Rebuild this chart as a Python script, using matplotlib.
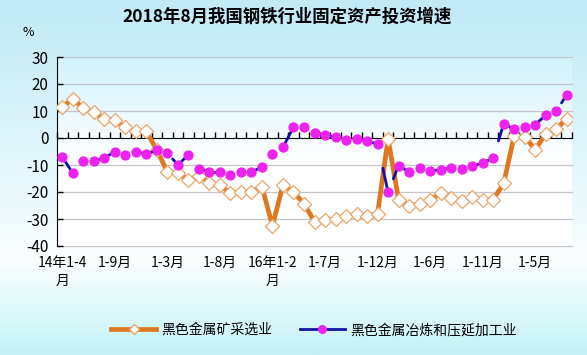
import matplotlib
matplotlib.use("Agg")
import matplotlib.pyplot as plt
import numpy as np
from matplotlib.colors import LinearSegmentedColormap
from matplotlib.lines import Line2D
from matplotlib.transforms import blended_transform_factory

plt.rcParams["font.family"] = ["Noto Sans CJK SC", "DejaVu Sans"]
plt.rcParams["axes.unicode_minus"] = False

TITLE = "2018年8月我国钢铁行业固定资产投资增速"
SERIES_NAMES = ["黑色金属矿采选业", "黑色金属冶炼和压延加工业"]

periods = [
    "14年1-4月", "1-5月", "1-6月", "1-7月", "1-8月", "1-9月", "1-10月", "1-11月", "1-12月",
    "15年1-2月", "1-3月", "1-4月", "1-5月", "1-6月", "1-7月", "1-8月", "1-9月", "1-10月",
    "1-11月", "1-12月",
    "16年1-2月", "1-3月", "1-4月", "1-5月", "1-6月", "1-7月", "1-8月", "1-9月", "1-10月",
    "1-11月", "1-12月",
    "17年1-2月", "1-3月", "1-4月", "1-5月", "1-6月", "1-7月", "1-8月", "1-9月", "1-10月",
    "1-11月", "1-12月",
    "18年1-2月", "1-3月", "1-4月", "1-5月", "1-6月", "1-7月", "1-8月",
]

mining = [
    11.5, 14.5, 11.0, 9.5, 7.0, 6.5, 4.0, 2.5, 2.5,
    -4.5, -12.5, -13.0, -15.5, -14.0, -16.5, -17.5, -20.5, -20.0, -20.0, -18.0,
    -32.5, -17.5, -20.0, -24.3, -31.0, -30.5, -30.0, -29.0, -28.3, -29.0, -28.0,
    -0.3, -22.8, -25.2, -24.4, -23.0, -20.4, -22.2, -23.5, -22.0, -23.0, -22.8,
    -16.8, 0.8, 0.5, -4.3, 1.5, 3.3, 7.2,
]

smelting = [
    -7.0, -13.0, -8.5, -8.5, -7.5, -5.0, -6.3, -5.0, -6.0,
    -4.5, -5.5, -10.0, -6.2, -11.3, -12.6, -12.6, -13.8, -12.6, -12.6, -10.7,
    -5.9, -3.4, 4.0, 4.0, 1.8, 1.1, 0.3, -0.8, -0.3, -1.1, -2.3,
    -20.0, -10.2, -12.6, -11.0, -12.2, -11.8, -11.0, -11.5, -10.4, -9.3, -7.4,
    5.2, 3.3, 3.9, 5.0, 8.4, 10.0, 16.0,
]

# the blue connector is broken in the source image: share of each segment
# (ending at the next point) that is actually drawn
blue_segment_drawn = [
    1, 0, 0, 1, 1, 0, 0, 1, 1, 0, 0.5, 1, 0, 1, 1, 0, 0, 0, 1, 0, 0, 1, 0, 0,
    1, 1, 0, 0, 1, 1, 0.5, 0.5, 1, 0, 0, 1, 1, 0, 0, 1, 1, 0.5, 1, 0, 0, 1, 0, 0.5,
]

y_ticks = [30, 20, 10, 0, -10, -20, -30, -40]
label_every = 5

ORANGE = "#de7820"
DIAMOND_EDGE = "#eaa46a"
BLUE = "#1212a8"
MAGENTA = "#ee22ee"

fig = plt.figure(figsize=(5.87, 3.55), dpi=100)

# figure background: cyan at the top, almost white around the x labels, cyan at the bottom
bg = fig.add_axes([0, 0, 1, 1], zorder=-10)
bg_cmap = LinearSegmentedColormap.from_list(
    "bg", [(0.0, "#c0eaf6"), (0.45, "#e2f6fb"), (0.74, "#fbfefe"), (1.0, "#c4f2f6")])
bg.imshow(np.linspace(0, 1, 256).reshape(-1, 1), aspect="auto", cmap=bg_cmap,
          extent=[0, 1, 0, 1])
bg.set_axis_off()

ax = fig.add_axes([57 / 587, 1 - 246 / 355, 515 / 587, 189 / 355])
x = np.arange(len(periods))
ax.set_xlim(-0.5, len(periods) - 0.5)
ax.set_ylim(-40, 30)

pa_cmap = LinearSegmentedColormap.from_list(
    "pa", [(0.0, "#d2f2fb"), (0.55, "#ffffff"), (1.0, "#ffffff")])
ax.imshow(np.linspace(0, 1, 256).reshape(-1, 1), aspect="auto", cmap=pa_cmap,
          extent=[-0.5, len(periods) - 0.5, -40, 30], zorder=0)

for yv in y_ticks:
    if yv != 0:
        ax.axhline(yv, color="#c4c4cc", lw=0.9, zorder=1, clip_on=False)

ax.plot(x, mining, color=ORANGE, lw=3.4, marker="D", ms=7.2, mfc="white",
        mec=DIAMOND_EDGE, mew=0.9, zorder=3)

for k, frac in enumerate(blue_segment_drawn):
    if frac == 0:
        continue
    y0, y1 = smelting[k], smelting[k + 1]
    ax.plot([k + 1 - frac, k + 1], [y1 - frac * (y1 - y0), y1], color=BLUE, lw=2.0,
            solid_capstyle="round", zorder=4)
ax.plot(x, smelting, ls="none", marker="o", ms=6.4, mfc=MAGENTA, mec=MAGENTA, zorder=5)

# category axis crosses at zero, ticks between categories
ax.spines["bottom"].set_position(("data", 0))
ax.spines["bottom"].set_zorder(2)
for s in ["top", "right"]:
    ax.spines[s].set_visible(False)
ax.set_xticks(np.arange(-0.5, len(periods), 1.0))
ax.tick_params(axis="x", direction="in", length=4, width=1, labelbottom=False)
ax.set_yticks(y_ticks)
ax.tick_params(axis="y", direction="in", length=4, width=1, labelsize=11, pad=6)
ax.set_facecolor("none")

trans = blended_transform_factory(ax.transData, ax.transAxes)
for i in range(0, len(periods), label_every):
    lab = periods[i]
    if "年" in lab:
        lab = lab[:-1] + "\n" + lab[-1]
    ax.text(i, -0.055, lab, transform=trans, ha="center", va="top", fontsize=10,
            linespacing=1.3)

fig.text(287 / 587, 1 - 17 / 355, TITLE, ha="center", va="center", fontsize=12.5,
         fontweight="bold")
fig.text(28 / 587, 1 - 33 / 355, "%", ha="center", va="center", fontsize=9)

handles = [
    Line2D([], [], color=ORANGE, lw=3.4, marker="D", ms=5, mfc="white", mec=DIAMOND_EDGE),
    Line2D([], [], color=BLUE, lw=2.0, marker="o", ms=5.5, mfc=MAGENTA, mec=MAGENTA),
]
fig.legend(handles, SERIES_NAMES, loc="center", bbox_to_anchor=(314 / 587, 1 - 330 / 355),
           ncol=2, frameon=False, fontsize=10, handlelength=3.2, columnspacing=2.0,
           handletextpad=0.4)

fig.savefig("out.png", dpi=100)
